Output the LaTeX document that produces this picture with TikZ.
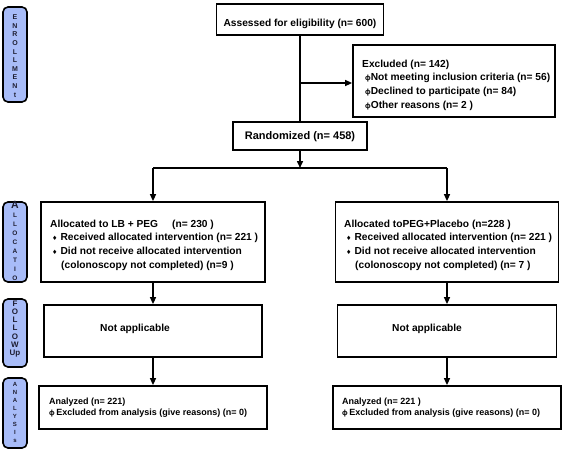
\documentclass[tikz,border=0pt]{standalone}
\usepackage{fontspec}
\setmainfont{Liberation Sans}
\newfontfamily\dvs{DejaVu Sans}
\usetikzlibrary{arrows.meta}
\definecolor{sidebl}{RGB}{168,188,248}
\definecolor{sidetxt}{RGB}{30,30,50}
\newcommand{\bul}{{\dvs\fontsize{6}{6}\selectfont ♦}}
\newcommand{\phib}{{\fontsize{7.5}{7.5}\selectfont ϕ}}
\begin{document}
\begin{tikzpicture}[x=1pt,y=-1pt,
  box/.style={draw=black,line width=1.8pt,rectangle,inner sep=0pt},
  txt/.style={inner sep=0pt,align=left,font=\bfseries\fontsize{10.2}{13.6}\selectfont},
  smalltxt/.style={inner sep=0pt,align=left,font=\bfseries\fontsize{9}{11}\selectfont},
  side/.style={draw=black,line width=1.6pt,rounded corners=5pt,fill=sidebl,minimum width=24pt,inner sep=0pt},
  sidelbl/.style={inner sep=0pt,align=center,text=sidetxt},
  conn/.style={line width=1.5pt},
  arr/.style={conn,-{Triangle[length=7pt,width=6pt]}},
]
\useasboundingbox (0,0) rectangle (567,450);

% side labels
\node[side,minimum height=95pt] (senr) at (15,54.5) {};
\node[sidelbl,font=\bfseries\fontsize{7}{8.6}\selectfont] (senrt) at (15,56) {E\\N\\R\\O\\L\\L\\M\\E\\N\\t};
\node[side,minimum height=80pt] (salloc) at (15,242) {};
\node[sidelbl,anchor=north,font=\bfseries\fontsize{6.5}{9}\selectfont] (salloct) at (15,201.5) {{\fontsize{10.5}{10}\selectfont A}\\L\\L\\O\\C\\A\\T\\I\\O};
\node[side,minimum height=68pt] (sfol) at (15,333) {};
\node[sidelbl,font=\bfseries\fontsize{8}{8.2}\selectfont] (sfolt) at (15,329) {F\\O\\L\\L\\O\\W\\Up};
\node[side,minimum height=70pt] (sana) at (15,413) {};
\node[sidelbl,font=\bfseries\fontsize{6}{8}\selectfont] (sanat) at (15,412) {A\\N\\A\\L\\Y\\S\\I\\s};

% main boxes
\node[box,minimum width=167pt,minimum height=31pt] (assess) at (300,19.5) {};
\node[txt] (assesst) at (300,23.5) {Assessed for eligibility (n= 600)};

\node[box,minimum width=202pt,minimum height=72pt] (excl) at (454,81) {};
\node[txt,anchor=west] (exclt) at (362,85) {Excluded (n= 142)\\
\hspace*{3pt}\phib Not meeting inclusion criteria (n= 56)\\
\hspace*{3pt}\phib Declined to participate (n= 84)\\
\hspace*{3pt}\phib Other reasons (n= 2 )};

\node[box,minimum width=134pt,minimum height=28pt] (rand) at (300,136) {};
\node[txt,font=\bfseries\fontsize{11}{13}\selectfont] (randt) at (300,136.5) {Randomized (n= 458)};

\node[box,minimum width=224pt,minimum height=80pt] (allocL) at (153,242) {};
\node[txt,anchor=west] (allocLt) at (50,245) {Allocated to LB + PEG\hspace{14pt}(n= 230 )\\
\hspace*{2pt}\bul\hspace{3pt}Received allocated intervention (n= 221 )\\
\hspace*{2pt}\bul\hspace{3pt}Did not receive allocated intervention\\
\hspace*{11pt}(colonoscopy not completed) (n=9 )};

\node[box,minimum width=223pt,minimum height=80pt] (allocR) at (447,242) {};
\node[txt,anchor=west] (allocRt) at (344,245) {Allocated toPEG+Placebo (n=228 )\\
\hspace*{2pt}\bul\hspace{3pt}Received allocated intervention (n= 221 )\\
\hspace*{2pt}\bul\hspace{3pt}Did not receive allocated intervention\\
\hspace*{11pt}(colonoscopy not completed) (n= 7 )};

\node[box,minimum width=218pt,minimum height=52pt] (folL) at (153,331) {};
\node[txt,anchor=west] (folLt) at (100,329) {Not applicable};
\node[box,minimum width=219pt,minimum height=52pt] (folR) at (447,331) {};
\node[txt,anchor=west] (folRt) at (392,329) {Not applicable};

\node[box,minimum width=228pt,minimum height=43pt] (anaL) at (153,407.5) {};
\node[smalltxt,anchor=west] (anaLt) at (49,407.5) {Analyzed (n= 221)\\
\phib\hspace{1.5pt}Excluded from analysis (give reasons) (n= 0)};
\node[box,minimum width=228pt,minimum height=43pt] (anaR) at (447,407.5) {};
\node[smalltxt,anchor=west] (anaRt) at (342,407.5) {Analyzed (n= 221 )\\
\phib\hspace{1.5pt}Excluded from analysis (give reasons) (n= 0)};

% connectors
\coordinate (j1) at (300,83);
\coordinate (split) at (300,168);
\coordinate (splitL) at (153,168);
\coordinate (splitR) at (447,168);
\draw[conn] (assess.south) -- (rand.north);
\draw[arr] (j1) -- (j1 -| excl.west);
\draw[arr] (rand.south) -- (split);
\draw[conn] (splitL) -- (splitR);
\draw[arr] (splitL) -- (allocL.north);
\draw[arr] (splitR) -- (allocR.north);
\draw[arr] (allocL.south) -- (folL.north);
\draw[arr] (allocR.south) -- (folR.north);
\draw[arr] (folL.south) -- (anaL.north);
\draw[arr] (folR.south) -- (anaR.north);
\end{tikzpicture}
\end{document}
